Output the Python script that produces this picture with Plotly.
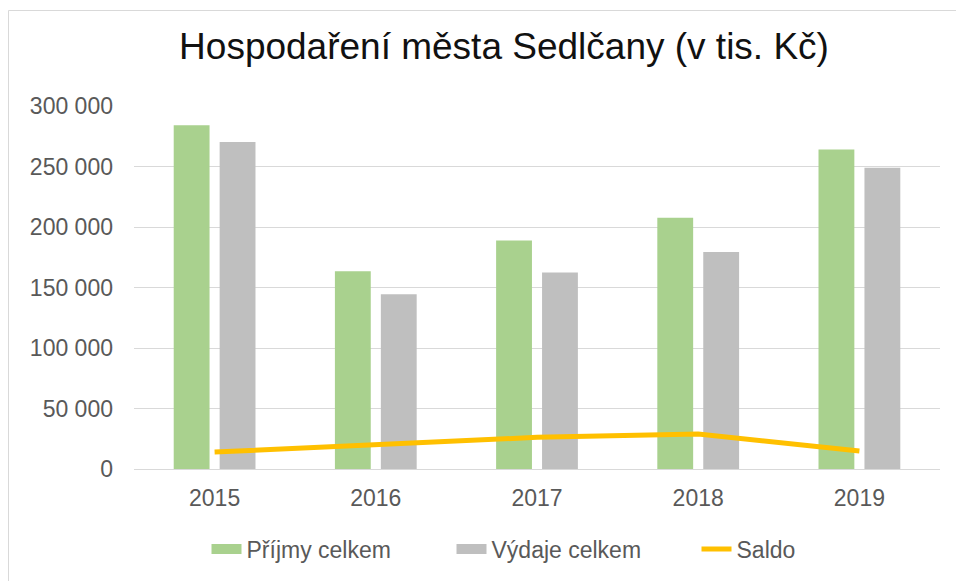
import plotly.graph_objects as go

years = ["2015", "2016", "2017", "2018", "2019"]
prijmy = [284000, 163500, 188800, 207700, 264000]
vydaje = [270300, 144500, 162400, 179400, 249000]
saldo = [14000, 19800, 26200, 28900, 14900]
y_ticks = [0, 50000, 100000, 150000, 200000, 250000, 300000]
y_tick_labels = ["0", "50 000", "100 000", "150 000", "200 000", "250 000", "300 000"]

GREEN, GRAY, GOLD = "#A9D18E", "#BFBFBF", "#FFC000"

W, H = 956, 581
L, R, T, B = 134, 16, 106, 112
pw, ph = W - L - R, H - T - B

fig = go.Figure()
fig.add_trace(go.Bar(x=years, y=prijmy, name="Příjmy celkem", showlegend=False,
                     marker=dict(color=GREEN, line=dict(width=0))))
fig.add_trace(go.Bar(x=years, y=vydaje, name="Výdaje celkem", showlegend=False,
                     marker=dict(color=GRAY, line=dict(width=0))))
fig.add_trace(go.Scatter(x=years, y=saldo, name="Saldo", mode="lines", showlegend=False,
                         line=dict(color=GOLD, width=5)))

# legend proxies (wide rectangle keys like the original)
fig.add_trace(go.Scatter(x=[None], y=[None], mode="lines", name="Příjmy celkem",
                         line=dict(color=GREEN, width=16)))
fig.add_trace(go.Scatter(x=[None], y=[None], mode="lines", name="Výdaje celkem",
                         line=dict(color=GRAY, width=16)))
fig.add_trace(go.Scatter(x=[None], y=[None], mode="lines", name="Saldo",
                         line=dict(color=GOLD, width=5)))

# outer chart border (left/top visible)
fig.add_shape(type="rect", xref="paper", yref="paper",
              x0=(8.5 - L) / pw, x1=(W + 10 - L) / pw,
              y0=-(H + 10 - T - ph) / ph, y1=1 + (T - 10.5) / ph,
              line=dict(color="#D9D9D9", width=1), layer="below")

fig.update_layout(
    width=W, height=H,
    margin=dict(l=L, r=R, t=T, b=B, autoexpand=False),
    paper_bgcolor="white", plot_bgcolor="white",
    font=dict(family="Liberation Sans, Arial, sans-serif", color="#595959", size=23),
    title=dict(text="Hospodaření města Sedlčany (v tis. Kč)",
               font=dict(size=37, color="#111111"),
               x=504 / W, xanchor="center", xref="container",
               y=1 - 46 / H, yanchor="middle", yref="container"),
    barmode="group", bargap=0.43, bargroupgap=0.22,
    showlegend=True,
    legend=dict(orientation="h", x=(574 - L) / pw, xanchor="center",
                y=-(549 - T - ph) / ph, yanchor="middle",
                font=dict(size=23, color="#595959"), traceorder="normal",
                itemwidth=30, entrywidth=200, entrywidthmode="pixels"),
    xaxis=dict(showgrid=False, showline=True, linecolor="#D9D9D9", linewidth=1,
               ticks="", tickfont=dict(size=23, color="#595959"), ticklabelstandoff=8),
    yaxis=dict(range=[0, 300000], tickvals=y_ticks, ticktext=y_tick_labels,
               showgrid=True, gridcolor="#D9D9D9", gridwidth=1, zeroline=False,
               showline=False, ticks="", tickfont=dict(size=23, color="#595959"),
               ticklabelstandoff=20),
)

fig.write_html("out.html")
